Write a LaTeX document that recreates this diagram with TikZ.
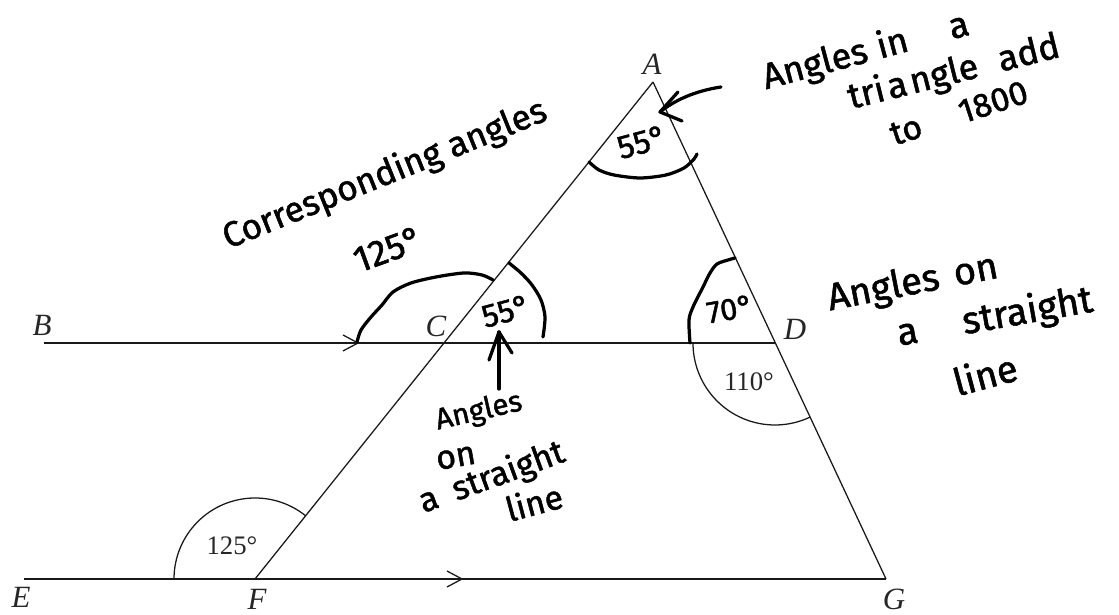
\documentclass[tikz,border=0pt]{standalone}
\usepackage{fontspec}
\setmainfont{Liberation Serif}
\newfontfamily\hand[FakeBold=1.4]{Fira Sans}
\newcommand{\hsz}[1]{\hand\fontsize{#1}{#1}\selectfont}
\usetikzlibrary{calc}
\begin{document}
\begin{tikzpicture}[x=0.025cm,y=0.025cm,
  geo/.style={line width=0.9pt, draw=black!90},
  handline/.style={line width=2.3pt, line cap=round, line join=round},
  ptlabel/.style={font=\fontsize{22}{24}\selectfont\itshape, text=black!85, inner sep=0pt},
  anglabel/.style={font=\fontsize{19}{21}\selectfont, text=black!85, inner sep=0pt},
  htext/.style={inner sep=0pt, anchor=center},
]
\useasboundingbox (0,0) rectangle (1119,615);
% points
\coordinate (A) at (653,533);
\coordinate (F) at (255,36);
\coordinate (G) at (886,36);
\coordinate (C) at (444,272);
\coordinate (D) at (775,272);
\coordinate (Bl) at (44,272);
\coordinate (El) at (24,36);
% geometry
\draw[geo] (A) -- (F);
\draw[geo] (A) -- (G);
\draw[geo] (Bl) -- (D);
\draw[geo] (El) -- (G);
% parallel marks
\coordinate (m1) at (358,272);
\coordinate (m2) at (462,36);
\draw[geo] ($(m1)+(-15,8)$) -- (m1) -- ($(m1)+(-15,-8)$);
\draw[geo] ($(m2)+(-15,8)$) -- (m2) -- ($(m2)+(-15,-8)$);
% printed angle arcs
\draw[geo] ($(F)+(51.3:81)$) arc[start angle=51.3, end angle=180, radius=81];
\draw[geo] ($(D)+(180:82)$) arc[start angle=180, end angle=295.2, radius=82];
% printed labels
\node[ptlabel] (lA) at (652,551) {A};
\node[ptlabel] (lB) at (42,290) {B};
\node[ptlabel] (lC) at (436,289) {C};
\node[ptlabel] (lD) at (795,286) {D};
\node[ptlabel] (lE) at (21,18) {E};
\node[ptlabel] (lF) at (257,16) {F};
\node[ptlabel] (lG) at (894,16) {G};
\node[anglabel] (a110) at (749,233) {110°};
\node[anglabel] (a125) at (232,69) {125°};
% handwritten arcs
\draw[handline] plot[smooth] coordinates {(589,453) (599,445) (614,440) (640,437) (666,440) (684,447) (694,456) (697,461)};
\draw[handline] plot[smooth] coordinates {(357,273) (361,285) (371,298) (382,310) (393,323) (411,332) (436,338) (464,342) (482,340) (493,335)};
\draw[handline] plot[smooth] coordinates {(509,352) (521,342) (532,330) (541,315) (545,298) (543,278)};
\draw[handline] plot[smooth] coordinates {(690,272) (689,295) (693,308) (703,328) (710,342) (717,351) (728,355) (735,357)};
% handwritten arrows
\coordinate (v1) at (499,226);
\coordinate (v2) at (499,283);
\draw[handline] (v1) -- (v2);
\draw[handline] ($(v2)+(-10,-28)$) -- (v2) -- ($(v2)+(13,-21)$);
\coordinate (w1) at (721,528);
\coordinate (w2) at (660,503);
\draw[handline] (w1) .. controls (695,524) and (675,515) .. (w2);
\draw[handline] ($(w2)+(18,20)$) -- (w2) -- ($(w2)+(22,-9)$);
% handwritten texts
\node[htext, font=\hsz{25}, rotate=22] (cor) at (385,440) {Corresponding angles};
\node[htext, font=\hsz{26}, rotate=20] (h125) at (388,366) {125°};
\node[htext, font=\hsz{23}, rotate=15] (h55c) at (506,304) {55°};
\node[htext, font=\hsz{23.5}, rotate=15] (h55a) at (642,473) {55°};
\node[htext, font=\hsz{22}, rotate=10] (h70) at (730,306) {70°};
\node[htext, font=\hsz{25.6}, rotate=15] (t1) at (866,563) {Angles\hspace{0.3em}in\hspace{1.2em}a};
\node[htext, font=\hsz{25.5}, rotate=14] (t2) at (954,542) {tri\hspace{0.1em}a\hspace{0.1em}ngle\hspace{0.6em}add};
\node[htext, font=\hsz{24}, rotate=18] (t3) at (959,502) {to\hspace{1.2em}1800};
\node[htext, font=\hsz{27}, rotate=11] (t4) at (913,331) {Angles\hspace{0.4em}on};
\node[htext, font=\hsz{27}, rotate=10] (t5) at (995,297) {a\hspace{1.2em}straight};
\node[htext, font=\hsz{27}, rotate=15] (t6) at (985,241) {line};
\node[htext, font=\hsz{21}, rotate=13] (t7) at (479,203) {Angles};
\node[htext, font=\hsz{24}, rotate=10] (t8) at (456,157) {on};
\node[htext, font=\hsz{24}, rotate=20] (t9) at (492,137) {a\hspace{0.5em}straight};
\node[htext, font=\hsz{24}, rotate=15] (t10) at (534,113) {line};
\end{tikzpicture}
\end{document}
